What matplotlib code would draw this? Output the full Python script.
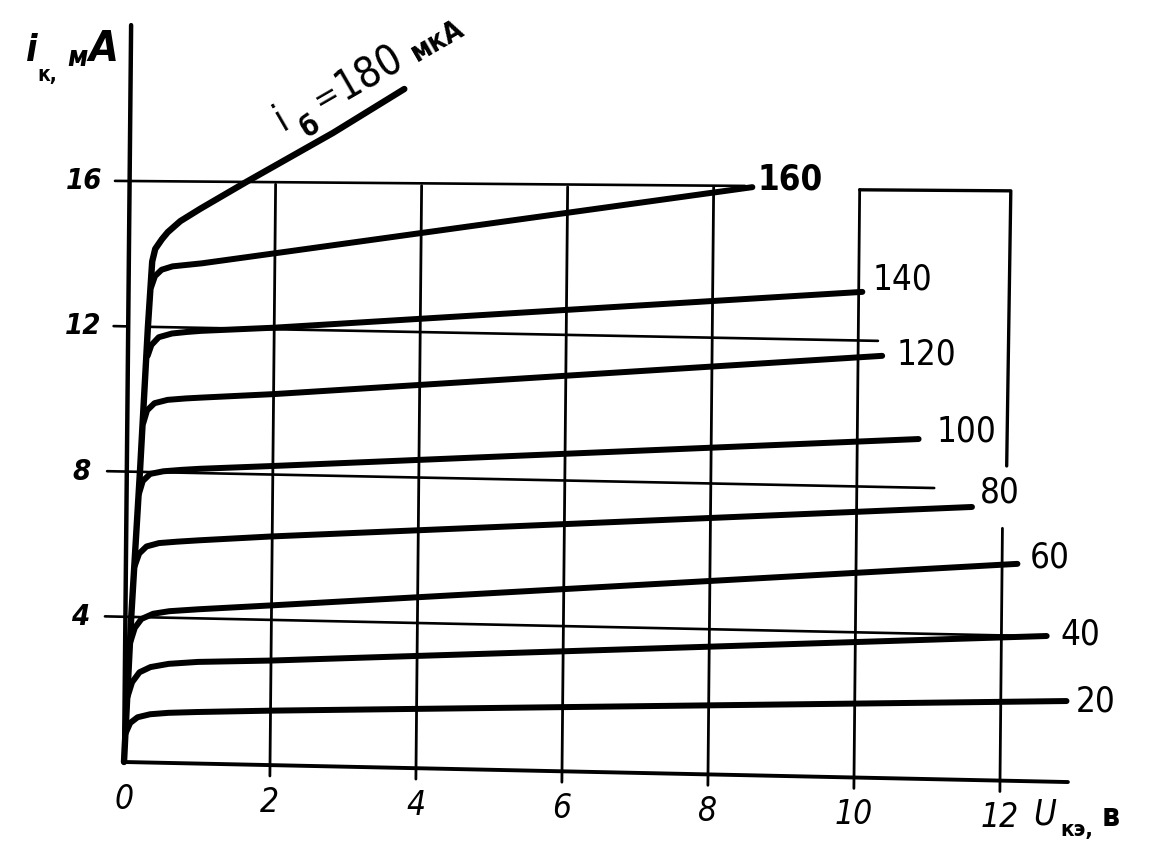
import numpy as np
import matplotlib
matplotlib.use('Agg')
import matplotlib.pyplot as plt
import matplotlib.transforms as mtransforms
from matplotlib import font_manager as fm

W, H = 1155, 854

# base current of each curve, uA
ib_values = [20, 40, 60, 80, 100, 120, 140, 160]

# collector voltage U_ke (V) and collector current i_k (mA)
curve_u = [
    [0.02, 0.08, 0.18, 0.35, 0.6, 1.0, 2.0, 12.9],
    [0.04, 0.10, 0.20, 0.35, 0.6, 1.0, 2.0, 12.62],
    [0.07, 0.13, 0.22, 0.38, 0.6, 1.0, 2.0, 12.21],
    [0.12, 0.18, 0.28, 0.45, 0.7, 1.0, 2.0, 11.58],
    [0.17, 0.22, 0.32, 0.50, 0.75, 1.0, 2.0, 10.84],
    [0.22, 0.27, 0.37, 0.55, 0.8, 1.0, 2.0, 10.33],
    [0.27, 0.32, 0.42, 0.60, 0.8, 1.0, 2.0, 10.05],
    [0.31, 0.36, 0.45, 0.60, 0.8, 1.0, 2.0, 8.53],
]
curve_i = [
    [0.8, 1.08, 1.24, 1.33, 1.38, 1.42, 1.50, 2.23],
    [1.8, 2.20, 2.48, 2.63, 2.73, 2.80, 2.88, 4.01],
    [3.3, 3.70, 3.95, 4.10, 4.18, 4.25, 4.40, 5.98],
    [5.4, 5.75, 5.95, 6.05, 6.10, 6.15, 6.30, 7.52],
    [7.4, 7.75, 7.95, 8.03, 8.08, 8.12, 8.24, 9.36],
    [9.35, 9.70, 9.90, 10.00, 10.05, 10.08, 10.22, 11.63],
    [11.2, 11.50, 11.72, 11.83, 11.88, 11.92, 12.05, 13.38],
    [13.1, 13.40, 13.58, 13.68, 13.73, 13.78, 14.10, 16.20],
]

# i_b = 180 uA, starts at the origin along the saturation line
u_180 = [0, 0.08, 0.18, 0.27, 0.32, 0.36, 0.45, 0.53, 0.7, 0.97, 1.6, 2.78, 3.75]
i_180 = [0, 4, 8, 12, 13.8, 14.15, 14.42, 14.62, 14.93, 15.28, 16.05, 17.45, 18.7]

x_ticks = [0, 2, 4, 6, 8, 10, 12]
y_ticks = [4, 8, 12, 16]
x_ticklabels = ['0', '2', '4', '6', '8', '10', '12']
y_ticklabels = ['4', '8', '12', '16']

# where the hand-drawn grid lines start and stop
vgrid_top = [16.0, 16.05, 16.1, 16.2, 16.2, 6.95]
hgrid_start = [-0.28, -0.27, 0.25, -0.2]
hgrid_end = [12.5, 11.06, 10.27, 8.43]
hgrid_end_i = [4.0, 8.02, 12.04, 16.23]

label_u = [13.3, 13.08, 12.65, 11.96, 11.5, 10.94, 10.6, 9.04]
label_i = [2.25, 4.09, 6.19, 7.95, 9.61, 11.71, 13.76, 16.45]

# narrow lettering if the system has a condensed face
fonts = fm.fontManager.ttflist
if any(f.name == 'Liberation Sans Narrow' for f in fonts):
    fnt = dict(family='Liberation Sans Narrow')
elif any(f.name == 'DejaVu Sans' and 'ondensed' in f.fname for f in fonts):
    fnt = dict(family='DejaVu Sans', stretch='condensed')
else:
    fnt = dict(family='Liberation Sans')

fig = plt.figure(figsize=(W / 100, H / 100), dpi=100)
ax = fig.add_axes([0, 0, 1, 1])
ax.set_xlim(-124 / 73, (W - 124) / 73)
ax.set_ylim(-(H - 763) / 36.3, 763 / 36.3)
ax.set_axis_off()

# the scanned sheet is slightly skewed
skew = mtransforms.Affine2D(np.array([[1, 0.0048, 0], [-0.0427, 1, 0], [0, 0, 1]]))
T = skew + ax.transData
pix = mtransforms.Affine2D().scale(1, -1).translate(0, H)

k = dict(color='black', transform=T, solid_capstyle='round', solid_joinstyle='round')

# axes
ax.plot([0, 12.93], [0, 0], lw=2.8, **k)
ax.plot([0, 0], [0, 20.3], lw=3.2, **k)

# grid
for x, top in zip(x_ticks[1:], vgrid_top):
    ax.plot([x, x], [-0.3, top], lw=2.0, **k)
for y, x0, x1, y1 in zip(y_ticks, hgrid_start, hgrid_end, hgrid_end_i):
    ax.plot([x0, x1], [y, y1], lw=1.9, **k)
ax.plot([-0.2, 0], [12, 12], lw=1.9, **k)
# frame on the right
ax.plot([10.0, 12.07, 12.05], [16.19, 16.25, 8.67], lw=2.4, **k)

# curves
for u, i in zip(curve_u, curve_i):
    ax.plot(u, i, lw=4.3, **k)
ax.plot(u_180, i_180, lw=4.6, **k)

for s, x, y in zip(ib_values, label_u, label_i):
    ax.text(x, y, str(s), transform=T, ha='center', va='center', fontsize=25,
            weight='bold' if s == 160 else 'normal', **fnt)

for x, s in zip(x_ticks, x_ticklabels):
    ax.text(x, -1.0, s, transform=T, ha='center', va='center',
            fontsize=24, style='italic', **fnt)
for y, s in zip(y_ticks, y_ticklabels):
    ax.text(-0.62, y, s, transform=T, ha='center', va='center',
            fontsize=21, style='italic', weight='bold', **fnt)

# axis titles
ax.text(32, 51, 'i', transform=pix, ha='center', va='center', fontsize=27,
        style='italic', weight='bold', **fnt)
ax.text(47, 75, 'к,', transform=pix, ha='center', va='center', fontsize=15,
        weight='bold', **fnt)
ax.text(77, 58, 'м', transform=pix, ha='center', va='center', fontsize=20,
        style='italic', weight='bold', **fnt)
ax.text(103, 49, 'А', transform=pix, ha='center', va='center', fontsize=31,
        style='italic', weight='bold', **fnt)

ax.text(1045, 815, 'U', transform=pix, ha='center', va='center', fontsize=25,
        style='italic', **fnt)
ax.text(1077, 830, 'кэ,', transform=pix, ha='center', va='center', fontsize=16,
        weight='bold', **fnt)
ax.text(1111, 818, 'в', transform=pix, ha='center', va='center', fontsize=23,
        weight='bold', **fnt)

# i_b = 180 mkA
rot = 30
ax.text(281, 119, 'i', transform=pix, ha='center', va='center', fontsize=28,
        rotation=rot, **fnt)
ax.text(310, 127, 'б', transform=pix, ha='center', va='center', fontsize=20,
        weight='bold', rotation=rot, **fnt)
ax.text(327, 97, '=', transform=pix, ha='center', va='center', fontsize=24,
        rotation=rot, **fnt)
ax.text(370, 72, '180', transform=pix, ha='center', va='center', fontsize=30,
        rotation=rot, **fnt)
ax.text(438, 41, 'мкА', transform=pix, ha='center', va='center', fontsize=20,
        weight='bold', rotation=rot, **fnt)

fig.savefig('out.png', dpi=100)
